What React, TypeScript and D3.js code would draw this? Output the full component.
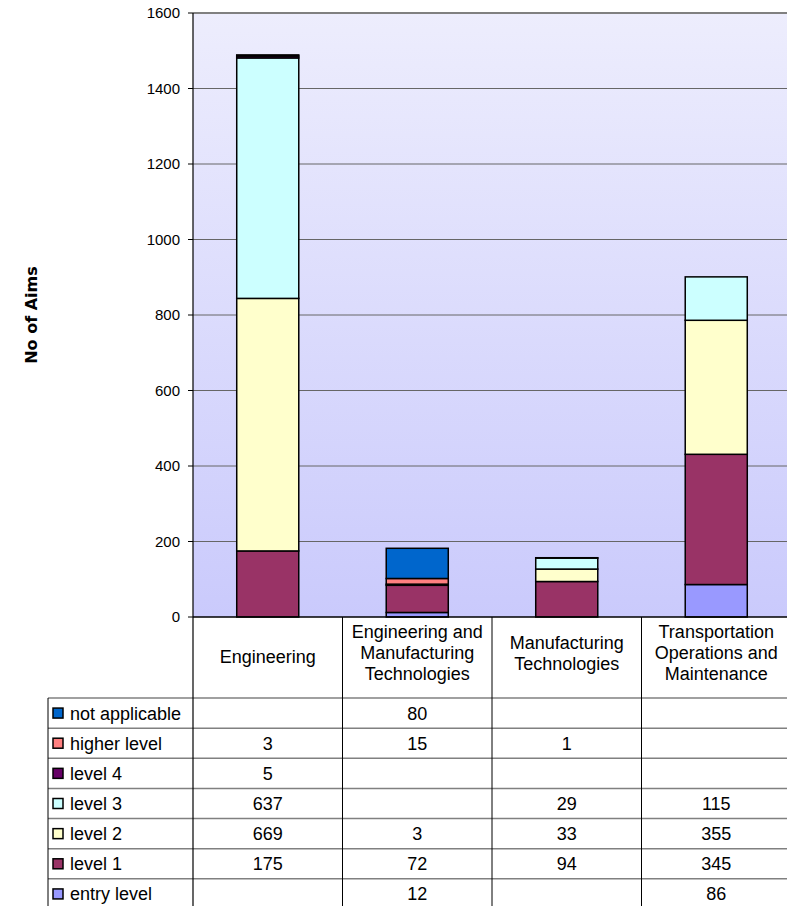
import React from "react";
import * as d3 from "d3";

const categories = [
  "Engineering",
  "Engineering and Manufacturing Technologies",
  "Manufacturing Technologies",
  "Transportation Operations and Maintenance",
];
const categoryLines = [
  ["Engineering"],
  ["Engineering and", "Manufacturing", "Technologies"],
  ["Manufacturing", "Technologies"],
  ["Transportation", "Operations and", "Maintenance"],
];

// series listed top (table order) to bottom
const seriesNames = [
  "not applicable",
  "higher level",
  "level 4",
  "level 3",
  "level 2",
  "level 1",
  "entry level",
];
const notApplicable = [null, 80, null, null];
const higherLevel = [3, 15, 1, null];
const level4 = [5, null, null, null];
const level3 = [637, null, 29, 115];
const level2 = [669, 3, 33, 355];
const level1 = [175, 72, 94, 345];
const entryLevel = [null, 12, null, 86];
const seriesValues: (number | null)[][] = [
  notApplicable,
  higherLevel,
  level4,
  level3,
  level2,
  level1,
  entryLevel,
];
const seriesColors = [
  "#0066CC",
  "#FF8080",
  "#660066",
  "#CCFFFF",
  "#FFFFCC",
  "#993366",
  "#9999FF",
];
const yTicks = [0, 200, 400, 600, 800, 1000, 1200, 1400, 1600];
const yLabel = "No of Aims";

const W = 787;
const H = 906;
const plotLeft = 193;
const plotRight = 791;
const plotTop = 13;
const plotBottom = 617;
const tableLeft = 48;
const headerBottom = 698;
const tableBottom = 909;
const font = "'Liberation Sans', Arial, sans-serif";
const tableFontSize = 18;

export default function App() {
  const x = d3.scaleBand<string>().domain(categories).range([plotLeft, plotRight]).padding(0);
  const y = d3.scaleLinear().domain([0, 1600]).range([plotBottom, plotTop]);
  const rowScale = d3.scaleBand<string>().domain(seriesNames).range([headerBottom, tableBottom]);
  const barW = x.bandwidth() * 0.415;

  const stackOrder = [...seriesNames.keys()].reverse();
  const rects: React.ReactNode[] = [];
  categories.forEach((c, ci) => {
    let acc = 0;
    stackOrder.forEach((si) => {
      const v = seriesValues[si][ci];
      if (v == null) return;
      const y0 = y(acc);
      const y1 = y(acc + v);
      acc += v;
      rects.push(
        <rect
          key={`${ci}-${si}`}
          x={x(c)! + (x.bandwidth() - barW) / 2}
          y={y1}
          width={barW}
          height={y0 - y1}
          fill={seriesColors[si]}
          stroke="#000"
          strokeWidth={1.5}
        />
      );
    });
  });

  return (
    <svg
      width={W}
      height={H}
      style={{ position: "absolute", left: 0, top: 0, display: "block", background: "#fff" }}
    >
      <defs>
        <linearGradient id="bg" x1="0" y1="0" x2="0" y2="1">
          <stop offset="0" stopColor="#EDEDFD" />
          <stop offset="1" stopColor="#CACAFC" />
        </linearGradient>
      </defs>
      <rect
        x={plotLeft}
        y={plotTop}
        width={plotRight - plotLeft}
        height={plotBottom - plotTop}
        fill="url(#bg)"
      />
      {yTicks.map((t) => (
        <g key={t}>
          {t > 0 && (
            <line
              x1={plotLeft}
              x2={plotRight}
              y1={y(t)}
              y2={y(t)}
              stroke={t === 1600 ? "#808080" : "#666"}
              strokeWidth={t === 1600 ? 2 : 1}
            />
          )}
          <line x1={plotLeft - 5} x2={plotLeft} y1={y(t)} y2={y(t)} stroke="#000" />
          <text
            x={180}
            y={y(t)}
            dy="0.36em"
            textAnchor="end"
            fontFamily={font}
            fontSize={15}
            fill="#000"
          >
            {t}
          </text>
        </g>
      ))}
      <text
        transform={`translate(37,${(plotTop + plotBottom) / 2}) rotate(-90)`}
        textAnchor="middle"
        fontFamily="'DejaVu Sans', Verdana, sans-serif"
        fontWeight="bold"
        fontSize={16}
        fill="#000"
      >
        {yLabel}
      </text>
      {rects}
      <line x1={plotLeft} x2={plotRight} y1={plotBottom} y2={plotBottom} stroke="#000" strokeWidth={1.5} />
      {seriesNames.map((s) => (
        <line
          key={s}
          x1={tableLeft}
          x2={plotRight}
          y1={rowScale(s)!}
          y2={rowScale(s)!}
          stroke="#808080"
          strokeWidth={1.5}
        />
      ))}
      <line x1={tableLeft} x2={tableLeft} y1={headerBottom} y2={H} stroke="#000" strokeWidth={1} />
      <line x1={plotLeft} x2={plotLeft} y1={plotTop} y2={H} stroke="#000" strokeWidth={1.2} />
      {categories.slice(1).map((c) => (
        <line key={c} x1={x(c)!} x2={x(c)!} y1={plotBottom} y2={H} stroke="#000" strokeWidth={1} />
      ))}
      {categories.map((c, ci) => {
        const lines = categoryLines[ci];
        const n = lines.length;
        const mid = n === 1 ? 663 : 659;
        return (
          <text key={c} textAnchor="middle" fontFamily={font} fontSize={tableFontSize} fill="#000">
            {lines.map((l, li) => (
              <tspan key={li} x={x(c)! + x.bandwidth() / 2} y={mid + (li - (n - 1) / 2) * 21}>
                {l}
              </tspan>
            ))}
          </text>
        );
      })}
      {seriesNames.map((s, si) => {
        const ry = rowScale(s)! + rowScale.bandwidth() / 2;
        return (
          <g key={s}>
            <rect x={53} y={ry - 5} width={10} height={10} fill={seriesColors[si]} stroke="#000" strokeWidth={1.5} />
            <text x={70} y={ry} dy="0.36em" fontFamily={font} fontSize={tableFontSize} fill="#000">
              {s}
            </text>
            {categories.map((c, ci) => {
              const v = seriesValues[si][ci];
              if (v == null) return null;
              return (
                <text
                  key={c}
                  x={x(c)! + x.bandwidth() / 2}
                  y={ry}
                  dy="0.36em"
                  textAnchor="middle"
                  fontFamily={font}
                  fontSize={tableFontSize}
                  fill="#000"
                >
                  {v}
                </text>
              );
            })}
          </g>
        );
      })}
    </svg>
  );
}
